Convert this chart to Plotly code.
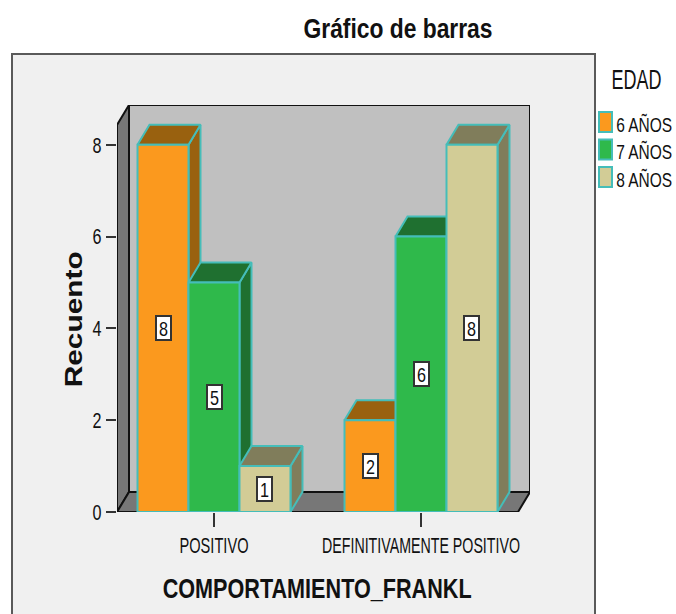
"""Grouped 3D-look bar chart of COMPORTAMIENTO_FRANKL by EDAD"""

import json

import plotly.graph_objects as go

categories = ["POSITIVO", "DEFINITIVAMENTE POSITIVO"]
series_names = ["6 AÑOS", "7 AÑOS", "8 AÑOS"]
counts_6 = [8, 2]
counts_7 = [5, 6]
counts_8 = [1, 8]
y_ticks = [0, 2, 4, 6, 8]

FRONT = ["#fb991e", "#2fb94b", "#d2cc96"]
SHADE = ["#99610f", "#1f7030", "#807d5b"]
EDGE = "#45bdb9"
FONT = "Liberation Sans, Arial, sans-serif"

W, H = 676, 614
L, R, T, B = 117, 530, 105, 512

# pixel scale of the axes: 207px between groups, 45.9px per count
X_UNIT, Y_UNIT = 207.0, 45.9
x_range = [(L - 214) / X_UNIT, (R - 214) / X_UNIT]
y_range = [0, (B - T) / Y_UNIT]
DX, DY = 12 / X_UNIT, 20 / Y_UNIT
BARGAP = 0.261
bar_w = (1 - BARGAP) / 3

# the reference is a squeezed screenshot, so text gets forced widths (px)
text_widths = {
    "Gráfico de barras": 189, "COMPORTAMIENTO_FRANKL": 309, "Recuento": 136, "EDAD": 50,
    "POSITIVO": 69, "DEFINITIVAMENTE POSITIVO": 198,
    "6 AÑOS": 56, "7 AÑOS": 56, "8 AÑOS": 56,
}
for digit in "0123456789":
    text_widths[digit] = 9


def poly(xs, ys, fill, line="#111111", width=2):
    return go.Scatter(
        x=xs + xs[:1], y=ys + ys[:1], mode="lines", fill="toself", fillcolor=fill,
        line=dict(color=line, width=width), hoverinfo="skip", showlegend=False,
    )


def px(x):
    return (x - L) / (R - L)


def py(y):
    return (B - y) / (B - T)


def paper_text(x, y, text, size, **kwargs):
    return dict(
        x=px(x), y=py(y), xref="paper", yref="paper", text=text, xanchor="center", yanchor="middle",
        showarrow=False, font=dict(family=FONT, size=size, color="#111111"), **kwargs,
    )


fig = go.Figure()

# walls and floor
x0, x1 = x_range[0], x_range[1] - DX
top = y_range[1] - DY
fig.add_trace(poly([x0 + DX, x1 + DX, x1 + DX, x0 + DX], [DY, DY, top + DY, top + DY], "#c0c0c0"))
fig.add_trace(poly([x0, x0 + DX, x0 + DX, x0], [0, DY, top + DY, top], "#777777"))
fig.add_trace(poly([x0, x1, x1 + DX, x0 + DX], [0, 0, DY, DY], "#777777"))

# side and top faces, painted left to right
all_counts = [counts_6, counts_7, counts_8]
for g in range(len(categories)):
    for s, counts in enumerate(all_counts):
        v = counts[g]
        left = g + (s - 1) * bar_w - bar_w / 2
        right = left + bar_w
        fig.add_trace(poly([right, right + DX, right + DX, right], [0, DY, v + DY, v], SHADE[s], EDGE))
        fig.add_trace(poly([left, right, right + DX, left + DX], [v, v, v + DY, v + DY], SHADE[s], EDGE))

# front faces live on an overlay so they cover the faces behind them
for s, counts in enumerate(all_counts):
    fig.add_trace(go.Bar(
        name=series_names[s], x=[0, 1], y=counts, xaxis="x2", yaxis="y2",
        marker=dict(color=FRONT[s], line=dict(color=EDGE, width=2)), showlegend=False,
    ))

annotations = []
for g in range(len(categories)):
    for s, counts in enumerate(all_counts):
        annotations.append(dict(
            x=g + (s - 1) * bar_w, y=counts[g] / 2, xref="x", yref="y", text=str(counts[g]),
            showarrow=False, font=dict(family=FONT, size=21, color="#111111"), width=11, height=20,
            bgcolor="white", bordercolor="#333333", borderwidth=2, borderpad=1,
        ))

# axis titles
annotations.append(paper_text(317, 588, "<b>COMPORTAMIENTO_FRANKL</b>", 28))
annotations.append(paper_text(73, 320, "<b>Recuento</b>", 24, textangle=-90))

# legend drawn by hand to get the tall narrow swatches
annotations.append(paper_text(636, 80, "EDAD", 27))
shapes = [dict(
    type="rect", xref="paper", yref="paper", x0=px(12), x1=px(595), y0=py(54), y1=py(640),
    fillcolor="#f0f0f0", line=dict(color="#5a5a5a", width=2), layer="below",
)]
for s, name in enumerate(series_names):
    yc = 122 + s * 27.5
    shapes.append(dict(
        type="rect", xref="paper", yref="paper", x0=px(599), x1=px(612), y0=py(yc - 10), y1=py(yc + 10),
        fillcolor=FRONT[s], line=dict(color=EDGE, width=2),
    ))
    annotations.append(paper_text(644, yc + 2, name, 20))

axis_font = dict(family=FONT, size=22, color="#111111")
fig.update_layout(
    width=W, height=H, margin=dict(l=L, r=W - R, t=T, b=H - B),
    paper_bgcolor="white", plot_bgcolor="rgba(0,0,0,0)",
    barmode="group", bargap=BARGAP, bargroupgap=0, showlegend=False,
    title=dict(
        text="<b>Gráfico de barras</b>", x=398 / W, y=1 - 28 / H, xanchor="center", yanchor="middle",
        font=dict(family=FONT, size=28, color="#111111"),
    ),
    xaxis=dict(
        range=x_range, tickvals=[0, 1], ticktext=categories, ticks="outside", ticklen=14, tickwidth=2,
        tickangle=0, tickcolor="#333333", tickfont=axis_font, showgrid=False, zeroline=False,
        showline=False, automargin=False,
    ),
    yaxis=dict(
        range=y_range, tickvals=y_ticks, ticks="outside", ticklen=10, tickwidth=2,
        tickcolor="#333333", tickfont=axis_font, showgrid=False, zeroline=False,
        showline=False, automargin=False,
    ),
    xaxis2=dict(range=x_range, overlaying="x", visible=False),
    yaxis2=dict(range=y_range, overlaying="y", visible=False),
    shapes=shapes,
    annotations=annotations,
)

squeeze = """
document.body.style.margin = '0';
var widths = %s;
function squeezeText() {
  document.querySelectorAll('svg text').forEach(function (t) {
    var w = widths[t.textContent];
    if (w) {
      t.setAttribute('textLength', w);
      t.setAttribute('lengthAdjust', 'spacingAndGlyphs');
    }
  });
}
squeezeText();
document.getElementById('{plot_id}').on('plotly_afterplot', squeezeText);
""" % json.dumps(text_widths, ensure_ascii=False)

fig.write_html("out.html", post_script=squeeze, config=dict(displayModeBar=False))
